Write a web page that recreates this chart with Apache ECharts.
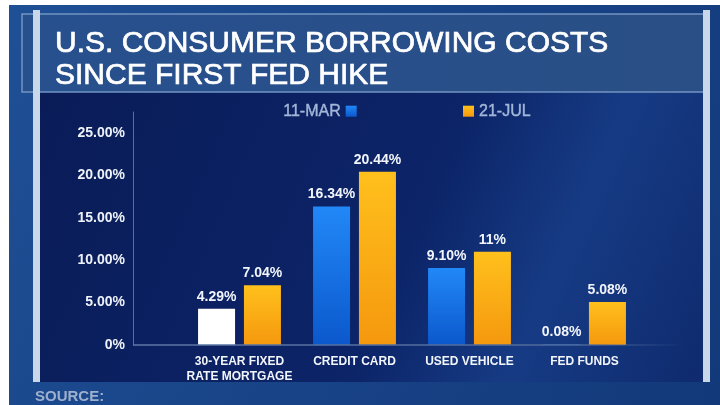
<!DOCTYPE html>
<html>
<head>
<meta charset="utf-8">
<script src="https://cdn.jsdelivr.net/npm/echarts@6/dist/echarts.min.js"></script>
<style>
html,body{margin:0;padding:0;background:#ffffff;}
#chart{width:720px;height:405px;}
</style>
</head>
<body>
<div id="chart"></div>
<script>
const titleText = 'U.S. CONSUMER BORROWING COSTS\nSINCE FIRST FED HIKE';
const categories = ['30-YEAR FIXED\nRATE MORTGAGE', 'CREDIT CARD', 'USED VEHICLE', 'FED FUNDS'];
const seriesNames = ['11-MAR', '21-JUL'];
const mar11 = [4.29, 16.34, 9.10, 0.08];
const jul21 = [7.04, 20.44, 11, 5.08];
const mar11Labels = ['4.29%', '16.34%', '9.10%', '0.08%'];
const jul21Labels = ['7.04%', '20.44%', '11%', '5.08%'];
const yTicks = [0, 5, 10, 15, 20, 25];
const sourceText = 'SOURCE:';

const FONT = '"Liberation Sans", Arial, sans-serif';
const blueGrad = new echarts.graphic.LinearGradient(0, 0, 0, 1, [
  {offset: 0, color: '#2288f7'}, {offset: 1, color: '#0b58cc'}]);
const orangeGrad = new echarts.graphic.LinearGradient(0, 0, 0, 1, [
  {offset: 0, color: '#ffc01c'}, {offset: 1, color: '#f5980e'}]);

const chart = echarts.init(document.getElementById('chart'));

function bgGraphics(zeroY) {
  return [
    {type: 'rect', z: -10, shape: {x: 9, y: 5, width: 711, height: 400},
      style: {fill: new echarts.graphic.LinearGradient(0, 0, 1, 1, [
        {offset: 0, color: '#1f4f95'}, {offset: 1, color: '#12397a'}])}},
    {type: 'rect', z: -9, shape: {x: 40, y: 92, width: 663, height: 290},
      style: {fill: new echarts.graphic.LinearGradient(0, 0, 1, 1, [
        {offset: 0, color: '#0a1c58'}, {offset: 0.55, color: '#0c2468'},
        {offset: 0.75, color: '#163b84'}, {offset: 1, color: '#0f2a6e'}])}},
    {type: 'rect', z: -8, shape: {x: 22, y: 14, width: 683, height: 78},
      style: {fill: new echarts.graphic.LinearGradient(0, 0, 1, 0, [
        {offset: 0, color: '#27508e'}, {offset: 1, color: '#2a4f86'}]),
        stroke: '#7294c2', lineWidth: 1.5}},
    {type: 'rect', z: -7, shape: {x: 33, y: 10, width: 7, height: 372},
      style: {fill: '#c9d7ea'}},
    {type: 'rect', z: -7, shape: {x: 703, y: 10, width: 7, height: 372},
      style: {fill: '#c9d7ea'}},
    {type: 'text', z: -6, left: 35, top: 389,
      style: {text: sourceText, fill: '#9fb0cd', font: 'bold 15px ' + FONT}},
    {type: 'line', z: 5, shape: {x1: 133, y1: zeroY, x2: 682, y2: zeroY},
      style: {stroke: new echarts.graphic.LinearGradient(0, 0, 1, 0, [
        {offset: 0, color: '#5d77a6'}, {offset: 0.8, color: '#4e6899'}, {offset: 1, color: 'rgba(78,104,153,0)'}]),
        lineWidth: 1.5}}
  ];
}

const option = {
  animation: false,
  backgroundColor: '#ffffff',
  title: {
    text: titleText, left: 50, top: 23,
    textStyle: {color: '#ffffff', fontFamily: FONT, fontSize: 30, fontWeight: 'normal', lineHeight: 32,
      textBorderColor: '#ffffff', textBorderWidth: 0.7}
  },
  legend: [
    {data: [seriesNames[0]], left: 278, top: 98, align: 'right', icon: 'rect',
      itemWidth: 11, itemHeight: 11, itemGap: 4,
      textStyle: {color: '#a2b6d8', fontFamily: FONT, fontSize: 16, textBorderColor: '#a2b6d8', textBorderWidth: 0.4}},
    {data: [seriesNames[1]], left: 458, top: 98, align: 'left', icon: 'rect',
      itemWidth: 11, itemHeight: 11, itemGap: 4,
      textStyle: {color: '#a2b6d8', fontFamily: FONT, fontSize: 16, textBorderColor: '#a2b6d8', textBorderWidth: 0.4}}
  ],
  grid: {left: 182, right: 78, top: 112, bottom: 60, containLabel: false},
  xAxis: {
    type: 'category', data: categories,
    axisLine: {show: false}, axisTick: {show: false},
    axisLabel: {color: '#f2f5fb', fontFamily: FONT, fontWeight: 'bold', fontSize: 12, lineHeight: 15, margin: 9, interval: 0}
  },
  yAxis: {
    type: 'value', min: 0, max: 27.5, interval: 2.5, offset: 49,
    axisLine: {show: true, lineStyle: {color: '#5a6e98', width: 1}},
    axisTick: {show: false}, splitLine: {show: false},
    axisLabel: {
      color: '#eef2f9', fontFamily: FONT, fontWeight: 'bold', fontSize: 14, margin: 8,
      formatter: v => yTicks.indexOf(v) < 0 ? '' : (v === 0 ? '0%' : v.toFixed(2) + '%')
    }
  },
  series: [
    {name: seriesNames[0], type: 'bar', barWidth: 37, barGap: '24%',
      data: mar11.map((v, i) => i === 0 ? {value: v, itemStyle: {color: '#ffffff'}} : v),
      itemStyle: {color: blueGrad},
      label: {show: true, position: 'top', distance: 5, color: '#f2f5fb', fontFamily: FONT,
        fontWeight: 'bold', fontSize: 14, formatter: p => mar11Labels[p.dataIndex]}},
    {name: seriesNames[1], type: 'bar', barWidth: 37, barGap: '24%',
      data: jul21,
      itemStyle: {color: orangeGrad},
      label: {show: true, position: 'top', distance: 5, color: '#f2f5fb', fontFamily: FONT,
        fontWeight: 'bold', fontSize: 14, formatter: p => jul21Labels[p.dataIndex]}}
  ]
};
chart.setOption(option);
const zeroY = chart.convertToPixel({yAxisIndex: 0}, 0);
chart.setOption({graphic: bgGraphics(zeroY)});
</script>
</body>
</html>
